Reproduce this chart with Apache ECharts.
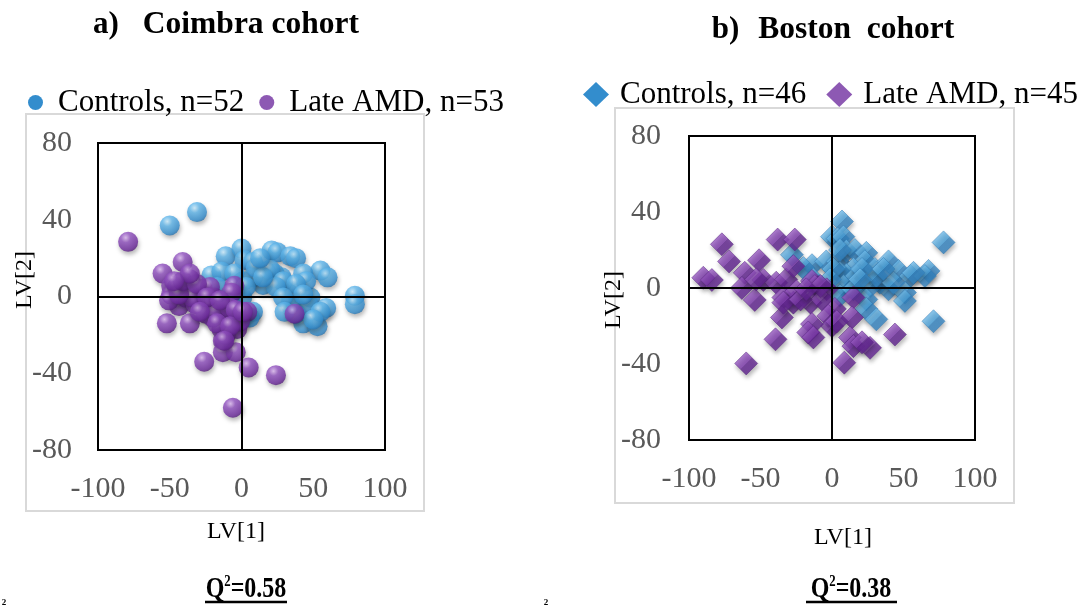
<!DOCTYPE html>
<html><head><meta charset="utf-8">
<script src="https://cdn.jsdelivr.net/npm/echarts@6/dist/echarts.min.js"></script>
<style>html,body{margin:0;padding:0;background:#fff}#c{width:1086px;height:608px}</style>
</head><body><div id="c"></div>
<script>
// ---- data (LV[1], LV[2]) ----
const coimbraControls = [
  [-31,44],[-50,37],[-11,21],[0,25],[2,19],[8,18],[21,24],[25,23],[34,21],[38,20],
  [55,13.5],[60,10],[43,12],[28,10],[23,12],[17,13],[15,6],[8,10],[1,8],[-21,11],
  [-14,13],[0.5,-0.5],[34,1],[48,-0.5],[46.5,-4],[59,-6],[79,0.4],[79,-4],[43,-14],[53,-15.5],
  [38,-9],[34,-4],[8,-8],[5.6,-11],[10,15],[20,14],[29,8],[45,8],[38,6.5],[24,5],
  [-5,12],[-17,5],[3,5],[43,1],[55,-8],[29,-0.5],[15,10],[-3,-6],[30,-8],[50,-12],
  [13,20],[-8,-3]
];
const coimbraAMD = [
  [-79,28.5],[-41,18],[-55,12],[-36,9],[-49,5.6],[-49,1],[-43.5,-5],[-52,-14],[-36,-14],[-28,1],
  [-27,4],[-19,-0.5],[-5,5.6],[-7,2],[-22,-6],[-13,-8],[-4,-13],[4,-8],[-14,-17],[-3,-17],
  [-13,-23],[-13,-29],[-4,-29],[-26,-34],[5,-37],[24,-41],[-6,-58],[37,-9],[-39,-0.5],[-45,5],
  [-32,-4],[-25,-9],[-22,5],[-34,-0.5],[-20,-11],[-18,-8],[-8,-6],[-1,-13],[-11,-20],[-50.5,-2],
  [-43.5,1],[-41,8],[-31,6.5],[-24,-0.5],[-15,-2],[-4,-7],[-29,-8],[-17,-14],[-8,-15.5],[-36,12],
  [-47,8],[1,-8],[-12,-23]
];
const bostonControls = [
  [7,35],[0,27],[4,26],[8,27],[78,24],[-28,17.5],[-14,12],[-20,10.5],[-4,14],[4,14],
  [10,19.5],[16,20],[24,18.5],[23,14],[30,10],[39.5,14],[46.5,9],[55,6.3],[67.5,9],[65,6.3],
  [39.5,-0.7],[33.5,2.8],[27,1],[51,-2.4],[51,-6.8],[15,10],[10,7],[5.6,8],[17,6.3],[24,-6],
  [24,-11],[31,-16.5],[71,-17.5],[8,1],[5.6,-4],[15,-0.7],[31,6.3],[43,2.8],[1,10],[21,10],
  [36,10],[57,8],[-1.4,4.5],[-13,4.5],[5.6,20],[19.6,4.5]
];
const bostonAMD = [
  [-77,23],[-38,25.5],[-26,25.5],[-72,14],[-51,14.6],[-61,8],[-90,5.4],[-84,4.2],[-63,0],[-54,-6.3],
  [-48,4.2],[-39,2.8],[-32,4.5],[-27,11.5],[-34,-5],[-27,-7.7],[-35,-15.5],[-39.5,-27],[-60,-39.7],[-14,3.7],
  [-12,1],[-3.7,-0.7],[-15,-7.7],[-7,-6],[2,-11],[-2.6,-14.7],[0,-20],[-14,-19],[-16.6,-23.4],[-13,-26],
  [15,-5],[14,-15.5],[12.6,-26],[15,-30.6],[26.6,-31.5],[8.6,-39.3],[44,-24.5],[-25,-1.7],[-34,-7.7],[-22,-6],
  [-8,1],[21,-28.6],[-53,4.5],[3.3,-17.6],[-18,-0.7]
];
const xTicks = {min:-100, max:100, interval:50};
const yTicks = {min:-80, max:80, interval:40};
const names = {
  cc:'Controls, n=52', ca:'Late AMD, n=53',
  bc:'Controls, n=46', ba:'Late AMD, n=45'
};

const SERIF = '"Liberation Serif", "DejaVu Serif", serif';
const blue = '#0070c0', purple = '#7030a0';

function sphere(light, mid, dark, edge){
  return {type:'radial', x:0.38, y:0.3, r:0.8, colorStops:[
    {offset:0,color:light},{offset:0.3,color:mid},{offset:0.75,color:dark},{offset:1,color:edge}]};
}
function pyramid(light, mid, dark){
  return {type:'linear', x:0, y:0, x2:1, y2:1, colorStops:[
    {offset:0,color:light},{offset:0.5,color:mid},{offset:0.51,color:dark},{offset:1,color:dark}]};
}
const blueSphere = sphere('#cdeeff','#62b8ec','#3690d0','#22639c');
const purpleSphere = sphere('#dcb8f0','#9152c0','#6e2c9e','#481869');
const blueDiamond = pyramid('#9bd6f7','#4aa3dd','#3585c2');
const purpleDiamond = pyramid('#b57fd8','#7e3aae','#622591');

function xAxis(gi){
  return {type:'value', gridIndex:gi, min:xTicks.min, max:xTicks.max, interval:xTicks.interval,
    axisLine:{show:false}, axisTick:{show:false}, splitLine:{show:false},
    axisLabel:{color:'#595959', fontSize:30, fontFamily:SERIF, margin:24}};
}
function yAxis(gi, m){
  return {type:'value', gridIndex:gi, min:yTicks.min, max:yTicks.max, interval:yTicks.interval,
    axisLine:{show:false}, axisTick:{show:false}, splitLine:{show:false},
    axisLabel:{color:'#595959', fontSize:30, fontFamily:SERIF, margin:m}};
}
function zeroLines(gi){
  return {type:'scatter', xAxisIndex:gi, yAxisIndex:gi, data:[], z:1, silent:true,
    markLine:{silent:true, symbol:['none','none'], label:{show:false},
      lineStyle:{color:'#000', width:2, type:'solid'}, emphasis:{disabled:true},
      data:[{xAxis:0},{yAxis:0}]}};
}
const shadow = {shadowBlur:4, shadowColor:'rgba(0,0,0,0.35)', shadowOffsetX:1, shadowOffsetY:3};
const qRich = {
  q:{fontFamily:SERIF, fontWeight:'bold', fontSize:30, color:'#000'},
  s:{fontFamily:SERIF, fontWeight:'bold', fontSize:16, color:'#000', verticalAlign:'top', padding:[0,0,14,0]}
};
const titleRich = (gap) => ({n:{fontSize:31,fontFamily:SERIF,color:'#000'},g:{width:gap},
  b:{fontSize:31.5,fontFamily:SERIF,fontWeight:'bold',color:'#000'}});

const chart = echarts.init(document.getElementById('c'), null, {renderer:'canvas'});
chart.setOption({
  animation:false,
  backgroundColor:'#fff',
  title:[
    {left:221, top:4, textAlign:'center', text:'{n|a)}{g|}{b|Coimbra cohort}', textStyle:{rich:titleRich(24)}},
    {left:828, top:9, textAlign:'center', text:'{n|b)}{g|}{b|Boston  cohort}', textStyle:{rich:titleRich(19)}}
  ],
  legend:[
    {left:23, top:82, icon:'circle', itemWidth:15, itemHeight:15, itemGap:15,
     textStyle:{fontSize:31, fontFamily:SERIF, color:'#000', padding:[0,0,0,10]},
     data:[{name:names.cc, itemStyle:{color:blue, borderWidth:0, shadowBlur:0}},
           {name:names.ca, itemStyle:{color:purple, borderWidth:0, shadowBlur:0}}]},
    {left:578, top:74, icon:'diamond', itemWidth:26, itemHeight:25, itemGap:20,
     textStyle:{fontSize:31, fontFamily:SERIF, color:'#000', padding:[0,0,0,6]},
     data:[{name:names.bc, itemStyle:{color:blue, borderWidth:0, shadowBlur:0}},
           {name:names.ba, itemStyle:{color:purple, borderWidth:0, shadowBlur:0}}]}
  ],
  grid:[
    {left:98, top:143, width:287, height:307, show:true, borderColor:'#000', borderWidth:2, backgroundColor:'transparent'},
    {left:689, top:136, width:286, height:304, show:true, borderColor:'#000', borderWidth:2, backgroundColor:'transparent'}
  ],
  xAxis:[xAxis(0), xAxis(1)],
  yAxis:[yAxis(0, 26), yAxis(1, 28)],
  series:[
    zeroLines(0), zeroLines(1),
    {type:'scatter', name:names.cc, xAxisIndex:0, yAxisIndex:0, z:2, data:coimbraControls,
     symbol:'circle', symbolSize:20, itemStyle:Object.assign({color:blueSphere}, shadow)},
    {type:'scatter', name:names.ca, xAxisIndex:0, yAxisIndex:0, z:3, data:coimbraAMD,
     symbol:'circle', symbolSize:20, itemStyle:Object.assign({color:purpleSphere}, shadow)},
    {type:'scatter', name:names.bc, xAxisIndex:1, yAxisIndex:1, z:2, data:bostonControls,
     symbol:'diamond', symbolSize:[23,23], itemStyle:Object.assign({color:blueDiamond, borderColor:'#2f78b3', borderWidth:0.6}, shadow)},
    {type:'scatter', name:names.ba, xAxisIndex:1, yAxisIndex:1, z:3, data:bostonAMD,
     symbol:'diamond', symbolSize:[23,23], itemStyle:Object.assign({color:purpleDiamond, borderColor:'#55207e', borderWidth:0.6}, shadow)}
  ],
  graphic:[
    {type:'rect', shape:{x:26, y:114, width:398, height:397}, style:{fill:'none', stroke:'#d9d9d9', lineWidth:2}, z:-1},
    {type:'rect', shape:{x:615, y:108, width:399, height:395}, style:{fill:'none', stroke:'#d9d9d9', lineWidth:2}, z:-1},
    {type:'text', x:236, y:532, style:{text:'LV[1]', font:'24px '+SERIF, fill:'#000', textAlign:'center', textVerticalAlign:'middle'}},
    {type:'text', x:843, y:538, style:{text:'LV[1]', font:'24px '+SERIF, fill:'#000', textAlign:'center', textVerticalAlign:'middle'}},
    {type:'text', x:25, y:280, rotation:Math.PI/2, style:{text:'LV[2]', font:'24px '+SERIF, fill:'#000', textAlign:'center', textVerticalAlign:'middle'}},
    {type:'text', x:614, y:300, rotation:Math.PI/2, style:{text:'LV[2]', font:'24px '+SERIF, fill:'#000', textAlign:'center', textVerticalAlign:'middle'}},
    {type:'text', x:246, y:589, scaleX:0.8, style:{text:'{q|Q}{s|2}{q|=0.58}', textAlign:'center', textVerticalAlign:'middle', rich:qRich}},
    {type:'line', shape:{x1:205, y1:602, x2:287, y2:602}, style:{stroke:'#000', lineWidth:2.5}},
    {type:'text', x:851, y:589, scaleX:0.8, style:{text:'{q|Q}{s|2}{q|=0.38}', textAlign:'center', textVerticalAlign:'middle', rich:qRich}},
    {type:'line', shape:{x1:806, y1:602, x2:897, y2:602}, style:{stroke:'#000', lineWidth:2.5}},
    {type:'text', x:4, y:603, style:{text:'2', font:'bold 9px '+SERIF, fill:'#000', textAlign:'center', textVerticalAlign:'middle'}},
    {type:'text', x:546, y:603, style:{text:'2', font:'bold 9px '+SERIF, fill:'#000', textAlign:'center', textVerticalAlign:'middle'}}
  ]
});
</script></body></html>
